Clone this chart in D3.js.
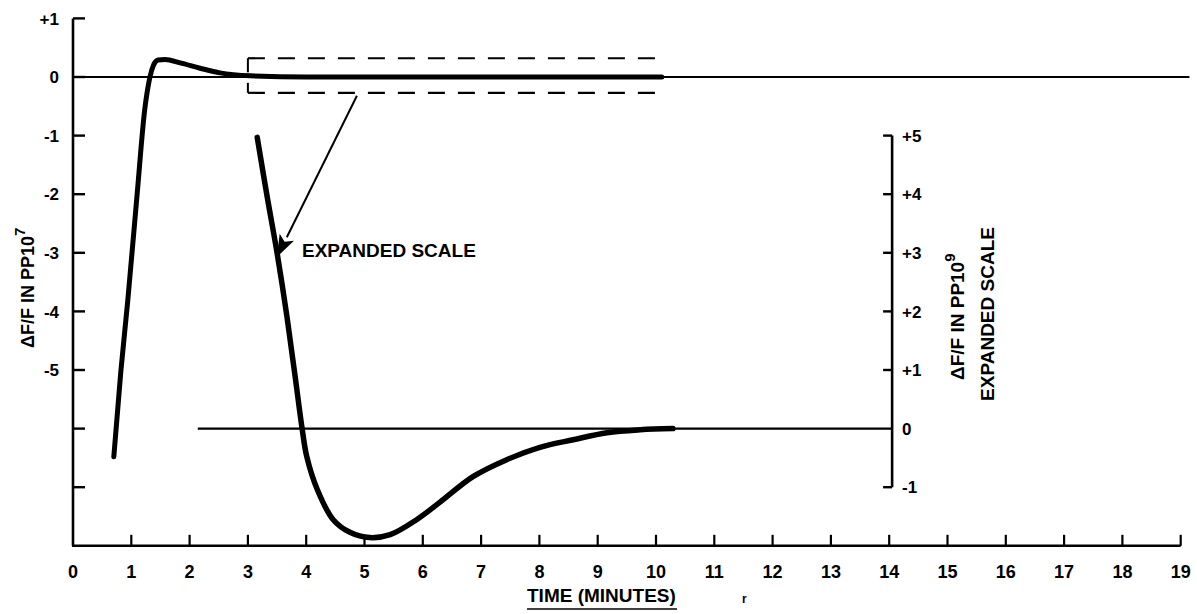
<!DOCTYPE html>
<html>
<head>
<meta charset="utf-8">
<script src="https://cdn.jsdelivr.net/npm/d3@7"></script>
<style>
  html, body { margin: 0; padding: 0; background: #fff; }
  svg { display: block; }
  text { font-family: "Liberation Sans", Arial, sans-serif; font-weight: bold; fill: #000; }
</style>
</head>
<body>
<svg id="chart" width="1197" height="614"></svg>
<script>
// ---- data ----
const xTicks = [0,1,2,3,4,5,6,7,8,9,10,11,12,13,14,15,16,17,18,19];
const leftTickValues = [1,0,-1,-2,-3,-4,-5,-6,-7];
const leftTickLabels = ["+1","0","-1","-2","-3","-4","-5","",""];
const rightTickValues = [5,4,3,2,1,0,-1];
const rightTickLabels = ["+5","+4","+3","+2","+1","0","-1"];

// main response (left scale, PP10^7)
const mainTime  = [0.70, 0.82, 0.94, 1.10, 1.23, 1.32, 1.38, 1.46, 1.58, 1.84, 2.18, 2.52, 3.04, 4.0, 10.1];
const mainValue = [-6.48, -5.03, -3.81, -2.0, -0.56, 0.0, 0.2, 0.29, 0.30, 0.24, 0.15, 0.07, 0.02, 0.0, 0.0];

// expanded response (right scale, PP10^9)
const expTime  = [3.16, 3.33, 3.50, 3.67, 3.81, 3.93, 4.01, 4.19, 4.46, 4.75, 5.09, 5.44, 5.90, 6.29, 6.86, 7.44, 8.01, 8.58, 9.16, 9.73, 10.29];
const expValue = [4.97, 3.96, 3.00, 1.91, 0.89, 0.0, -0.48, -1.04, -1.55, -1.77, -1.86, -1.81, -1.55, -1.26, -0.82, -0.53, -0.32, -0.19, -0.07, -0.02, 0.0];

// ---- scales ----
const svg = d3.select("#chart");
const x = d3.scaleLinear().domain([0, 19]).range([73, 1180.7]);
const y = d3.scaleLinear().domain([-8, 1]).range([545.8, 18.4]);
const yR = d3.scaleLinear().domain([-2, 7]).range([545.8, 18.4]);
const rightAxisT = 14.05;

const g = svg.append("g");

// ---- left axis ----
g.append("line").attr("x1", x(0)).attr("x2", x(0)).attr("y1", y(1)).attr("y2", y(-8))
  .attr("stroke", "#000").attr("stroke-width", 2.6);
leftTickValues.forEach((v, i) => {
  g.append("line").attr("x1", x(0)).attr("x2", x(0) + 12).attr("y1", y(v)).attr("y2", y(v))
    .attr("stroke", "#000").attr("stroke-width", 2.4);
  if (leftTickLabels[i]) {
    g.append("text").attr("x", x(0) - 14).attr("y", y(v)).attr("dy", "0.36em")
      .attr("text-anchor", "end").attr("font-size", 17).text(leftTickLabels[i]);
  }
});

// ---- bottom axis ----
g.append("line").attr("x1", x(0) - 1).attr("x2", x(19)).attr("y1", y(-8)).attr("y2", y(-8))
  .attr("stroke", "#000").attr("stroke-width", 2.6);
xTicks.forEach(t => {
  if (t > 0) {
    g.append("line").attr("x1", x(t)).attr("x2", x(t)).attr("y1", y(-8)).attr("y2", y(-8) - 11)
      .attr("stroke", "#000").attr("stroke-width", 2.2);
  }
  g.append("text").attr("x", x(t)).attr("y", 578).attr("text-anchor", "middle")
    .attr("font-size", 18).text(String(t));
});

// ---- zero line of left scale ----
g.append("line").attr("x1", x(0)).attr("x2", x(19.15)).attr("y1", y(0)).attr("y2", y(0))
  .attr("stroke", "#000").attr("stroke-width", 2);

// ---- dashed expansion box ----
const boxT0 = 3.0, boxT1 = 10.07, boxTop = 0.32, boxBot = -0.27;
g.append("line").attr("x1", x(boxT0)).attr("x2", x(boxT1)).attr("y1", y(boxTop)).attr("y2", y(boxTop))
  .attr("stroke", "#000").attr("stroke-width", 2.2).attr("stroke-dasharray", "17,13");
g.append("line").attr("x1", x(boxT0)).attr("x2", x(boxT1)).attr("y1", y(boxBot)).attr("y2", y(boxBot))
  .attr("stroke", "#000").attr("stroke-width", 2.2).attr("stroke-dasharray", "17,13");
g.append("line").attr("x1", x(boxT0)).attr("x2", x(boxT0)).attr("y1", y(boxTop)).attr("y2", y(0.08))
  .attr("stroke", "#000").attr("stroke-width", 2);
g.append("line").attr("x1", x(boxT0)).attr("x2", x(boxT0)).attr("y1", y(-0.1)).attr("y2", y(boxBot))
  .attr("stroke", "#000").attr("stroke-width", 2);

// ---- main curve ----
const lineMain = d3.line().x((d) => x(d[0])).y((d) => y(d[1])).curve(d3.curveMonotoneX);
g.append("path").datum(mainTime.map((t, i) => [t, mainValue[i]]))
  .attr("d", lineMain).attr("fill", "none").attr("stroke", "#000")
  .attr("stroke-width", 5).attr("stroke-linecap", "round").attr("stroke-linejoin", "round");

// ---- right axis (expanded scale) ----
g.append("line").attr("x1", x(rightAxisT)).attr("x2", x(rightAxisT)).attr("y1", yR(5)).attr("y2", yR(-1))
  .attr("stroke", "#000").attr("stroke-width", 2.6);
rightTickValues.forEach((v, i) => {
  if (v !== 0) {
    g.append("line").attr("x1", x(rightAxisT) - 9).attr("x2", x(rightAxisT)).attr("y1", yR(v)).attr("y2", yR(v))
      .attr("stroke", "#000").attr("stroke-width", 2.4);
  }
  g.append("text").attr("x", x(rightAxisT) + 10).attr("y", yR(v)).attr("dy", "0.36em")
    .attr("text-anchor", "start").attr("font-size", 17).text(rightTickLabels[i]);
});
// zero line of expanded scale
g.append("line").attr("x1", x(2.14)).attr("x2", x(rightAxisT)).attr("y1", yR(0)).attr("y2", yR(0))
  .attr("stroke", "#000").attr("stroke-width", 2.2);

// ---- expanded curve ----
const lineExp = d3.line().x((d) => x(d[0])).y((d) => yR(d[1])).curve(d3.curveCatmullRom.alpha(0.5));
g.append("path").datum(expTime.map((t, i) => [t, expValue[i]]))
  .attr("d", lineExp).attr("fill", "none").attr("stroke", "#000")
  .attr("stroke-width", 5.5).attr("stroke-linecap", "round").attr("stroke-linejoin", "round");

// ---- arrow ----
const arrowStart = [4.87, -0.32], arrowTip = [3.50, -3.07];
const ax0 = x(arrowStart[0]), ay0 = y(arrowStart[1]), ax1 = x(arrowTip[0]), ay1 = y(arrowTip[1]);
const ang = Math.atan2(ay1 - ay0, ax1 - ax0);
const headLen = 22, headW = 8;
const bx = ax1 - headLen * Math.cos(ang), by = ay1 - headLen * Math.sin(ang);
g.append("line").attr("x1", ax0).attr("y1", ay0).attr("x2", bx).attr("y2", by)
  .attr("stroke", "#000").attr("stroke-width", 2);
g.append("path")
  .attr("d", `M${ax1},${ay1} L${bx + headW * Math.sin(ang)},${by - headW * Math.cos(ang)} L${bx + 5 * Math.cos(ang)},${by + 5 * Math.sin(ang)} L${bx - headW * Math.sin(ang)},${by + headW * Math.cos(ang)} Z`)
  .attr("fill", "#000");

// ---- annotation ----
g.append("text").attr("x", 302).attr("y", 257).attr("font-size", 19).text("EXPANDED SCALE");

// ---- axis titles ----
const leftTitle = g.append("text").attr("transform", "translate(34,348) rotate(-90)")
  .attr("font-size", 18).attr("text-anchor", "start");
leftTitle.append("tspan").text("\u0394F/F IN PP10");
leftTitle.append("tspan").attr("dy", -9).attr("font-size", 15).text("7");

const rightTitle1 = g.append("text").attr("transform", "translate(964,380) rotate(-90)")
  .attr("font-size", 19).attr("text-anchor", "start");
rightTitle1.append("tspan").text("\u0394F/F IN PP10");
rightTitle1.append("tspan").attr("dy", -9).attr("font-size", 15).text("9");
g.append("text").attr("transform", "translate(994,314) rotate(-90)")
  .attr("font-size", 19).attr("text-anchor", "middle").text("EXPANDED SCALE");

g.append("text").attr("x", 527).attr("y", 602).attr("font-size", 19).text("TIME (MINUTES)");
g.append("line").attr("x1", 527).attr("x2", 677).attr("y1", 609).attr("y2", 609)
  .attr("stroke", "#000").attr("stroke-width", 1.6);
g.append("text").attr("x", 742).attr("y", 603).attr("font-size", 12).text("r");
</script>
</body>
</html>
